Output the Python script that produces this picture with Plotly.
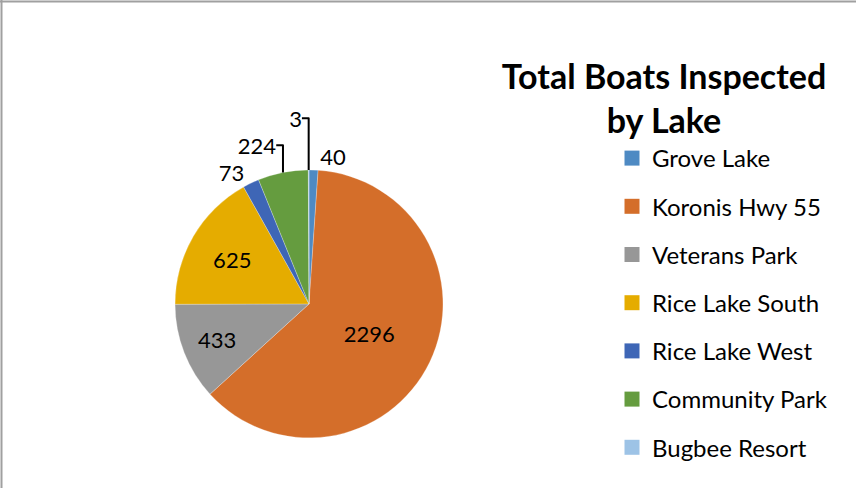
import plotly.graph_objects as go

lakes = ["Grove Lake", "Koronis Hwy 55", "Veterans Park", "Rice Lake South",
         "Rice Lake West", "Community Park", "Bugbee Resort"]
boats = [40, 2296, 433, 625, 73, 224, 3]
colors = ["#4E8AC3", "#D46E2A", "#979797", "#E5AC00", "#3E66B6", "#659C3F", "#9DC3E6"]
text_pos = ["outside", "inside", "inside", "inside", "outside", "outside", "outside"]

W, H = 856, 488
FONT = "Lato, Calibri, Carlito, sans-serif"

fig = go.Figure()
fig.add_trace(go.Pie(
    labels=lakes, values=boats, sort=False, direction="clockwise", rotation=0,
    marker=dict(colors=colors, line=dict(color="rgba(255,255,255,0.5)", width=0.5)),
    textinfo="value", textposition=text_pos,
    insidetextorientation="horizontal",
    textfont=dict(family=FONT, size=22, color="#000000"),
    showlegend=False,
    domain=dict(x=[0.2045, 0.5175], y=[0.1025, 0.652]),
))

# legend entries
for name, col in zip(lakes, colors):
    fig.add_trace(go.Scatter(
        x=[None], y=[None], mode="markers", name=name, legendgroup=name,
        marker=dict(symbol="square", size=15, color=col),
    ))

fig.update_layout(
    width=W, height=H,
    margin=dict(l=0, r=0, t=0, b=0),
    paper_bgcolor="white", plot_bgcolor="white",
    font=dict(family=FONT, size=22, color="#000000"),
    title=dict(text="<b>Total Boats Inspected<br>by Lake</b>",
               x=664 / W, xanchor="center", y=1 - 89 / H, yanchor="top",
               font=dict(family=FONT, size=34, color="#000000")),
    xaxis=dict(visible=False), yaxis=dict(visible=False),
    legend=dict(x=612 / W, xanchor="left", y=1 - 136 / H, yanchor="top",
                font=dict(family=FONT, size=24, color="#000000"),
                tracegroupgap=14, bgcolor="rgba(0,0,0,0)"),
    shapes=[
        dict(type="line", xref="paper", yref="paper", x0=0, x1=1, y0=1 - 1.5 / H, y1=1 - 1.5 / H,
             line=dict(color="#A0A0A0", width=2)),
        dict(type="line", xref="paper", yref="paper", x0=1.5 / W, x1=1.5 / W, y0=0, y1=1,
             line=dict(color="#A0A0A0", width=2)),
    ],
)

fig.write_html("out.html", config={"displayModeBar": False},
               post_script="document.body.style.margin='0';")
